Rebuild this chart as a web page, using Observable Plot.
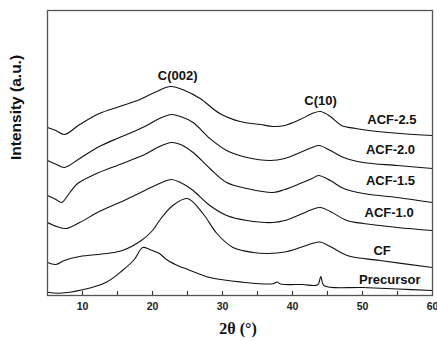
<!DOCTYPE html>
<html>
<head>
<meta charset="utf-8">
<script src="https://cdn.jsdelivr.net/npm/d3@7"></script>
<script src="https://cdn.jsdelivr.net/npm/@observablehq/plot@0.6"></script>
<style>
  body { margin: 0; background: #fff; }
  #chart svg { display: block; }
</style>
</head>
<body>
<div id="chart"></div>
<script>
// ---- Data (intensity in arbitrary units, curves stacked) ----
const sampleNames = ["ACF-2.5", "ACF-2.0", "ACF-1.5", "ACF-1.0", "CF", "Precursor"];

const thetaACF25 = [5.0, 6.2, 7.4, 9.6, 12.4, 15.3, 18.2, 20.3, 22.6, 24.6, 26.8, 29.6, 32.5, 35.4, 37.2, 38.9, 41.1, 42.8, 44.0, 45.4, 47.0, 49.0, 50.9, 55.4, 60.0];
const intACF25   = [168, 165, 161, 171, 182, 189, 196, 203, 209, 205, 197, 182, 174, 171, 169, 170, 176, 182, 184, 179, 170, 167, 165, 162, 160];

const thetaACF20 = [5.0, 6.3, 7.4, 9.6, 12.4, 15.3, 18.9, 21.0, 22.7, 24.0, 25.8, 28.2, 30.6, 33.5, 36.8, 38.9, 41.1, 42.8, 43.8, 45.4, 47.3, 50.1, 55.0, 60.0];
const intACF20   = [135, 131, 128, 137, 149, 158, 169, 177, 181, 179, 173, 157, 145, 138, 135, 137, 143, 148, 150, 145, 138, 133, 130, 127];

const thetaACF15 = [5.0, 6.2, 7.0, 8.2, 9.3, 11.7, 15.3, 18.9, 21.0, 22.7, 24.0, 25.8, 28.2, 30.6, 33.5, 37.2, 38.9, 41.1, 42.8, 43.7, 45.4, 47.3, 50.1, 55.0, 60.0];
const intACF15   = [100, 96, 93, 103, 112, 121, 131, 141, 149, 153, 151, 143, 127, 113, 107, 103, 106, 112, 117, 120, 115, 107, 102, 98, 93];

const thetaACF10 = [5.0, 6.3, 7.7, 9.6, 12.4, 15.3, 18.9, 21.0, 22.7, 24.0, 25.8, 28.2, 30.6, 33.5, 37.2, 38.9, 41.1, 42.8, 44.0, 45.4, 47.8, 50.1, 55.0, 60.0];
const intACF10   = [73, 69, 67, 73, 84, 93, 105, 112, 116, 113, 105, 90, 80, 75, 73, 75, 81, 86, 88, 84, 75, 72, 68, 65];

const thetaCF = [5.0, 6.2, 7.4, 9.6, 13.4, 15.7, 18.4, 20.0, 21.0, 22.9, 25.0, 27.2, 29.2, 31.5, 34.4, 36.5, 38.9, 41.1, 42.8, 43.9, 45.4, 47.8, 52.5, 60.0];
const intCF   = [33, 31, 35, 39, 42, 45, 55, 65, 75, 90, 97, 82, 62, 48, 43, 42, 43.5, 48, 52, 53.5, 49, 40, 35, 28];

const thetaPre = [5.0, 6.7, 10.0, 13.4, 15.7, 17.4, 18.6, 19.6, 21.0, 22.0, 23.9, 24.9, 28.2, 32.9, 37.2, 37.8, 38.3, 41.4, 43.6, 44.05, 44.5, 50.0, 55.0, 60.0];
const intPre   = [3.3, 2.3, 5.7, 13.3, 25, 36, 48, 46, 42, 36, 29, 26.5, 18, 13.3, 11.7, 13.5, 11.5, 11, 10.7, 19, 10, 8, 6.5, 5];

// Annotation texts and their positions (data units)
const labelTexts     = ["C(002)", "C(10)", "ACF-2.5", "ACF-2.0", "ACF-1.5", "ACF-1.0", "CF", "Precursor"];
const labelTheta     = [23.6, 44.0, 54.2, 54.0, 54.0, 53.8, 52.8, 53.9];
const labelIntensity = [220, 195, 175.7, 146, 114.7, 82.3, 44.3, 15.7];

// Axis ticks
const majorTicks = [10, 20, 30, 40, 50, 60];
const allTicks = [10, 15, 20, 25, 30, 35, 40, 45, 50, 55];

// ---- Build tables ----
const seriesThetas = [thetaACF25, thetaACF20, thetaACF15, thetaACF10, thetaCF, thetaPre];
const seriesValues = [intACF25, intACF20, intACF15, intACF10, intCF, intPre];
const rows = sampleNames.flatMap((name, k) =>
  seriesThetas[k].map((t, i) => ({sample: name, theta: t, intensity: seriesValues[k][i]}))
);
const labels = labelTexts.map((t, i) => ({text: t, theta: labelTheta[i], intensity: labelIntensity[i]}));

const chart = Plot.plot({
  width: 437,
  height: 341,
  marginLeft: 47,
  marginRight: 5,
  marginTop: 10,
  marginBottom: 46,
  x: {domain: [5, 60]},
  y: {domain: [0, 285], axis: null},
  style: {fontFamily: "'Liberation Sans', Arial, sans-serif", background: "#fff", color: "#111"},
  marks: [
    Plot.axisX({ticks: allTicks, tickSize: -4, fill: "none", label: null, stroke: "#333", strokeWidth: 1.1}),
    Plot.axisX({ticks: majorTicks, tickSize: 0, tickPadding: 7, fontSize: 10.5, fontWeight: "bold", label: null, fill: "#222"}),
    Plot.line(rows, {x: "theta", y: "intensity", z: "sample", curve: "catmull-rom", stroke: "#111", strokeWidth: 1.1}),
    Plot.frame({stroke: "#555", strokeWidth: 1.3}),
    Plot.text(labels, {x: "theta", y: "intensity", text: "text", fontSize: 13, fontWeight: "bold", lineAnchor: "middle", fill: "#111"}),
    Plot.text(["Intensity (a.u.)"], {frameAnchor: "left", rotate: -90, dx: -31, dy: 7, fontSize: 15.5, fontWeight: "bold", fill: "#111"}),
    Plot.text(["2θ (°)"], {frameAnchor: "bottom", dy: 38, dx: -2, fontSize: 16, fontWeight: "bold", fontFamily: "'Liberation Serif', 'Times New Roman', serif", fill: "#111"})
  ]
});

document.getElementById("chart").appendChild(chart);
</script>
</body>
</html>
